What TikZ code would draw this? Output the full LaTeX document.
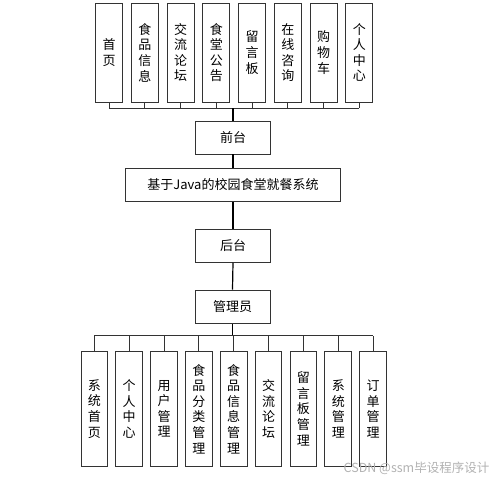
\documentclass[tikz,border=0pt]{standalone}
\usepackage{fontspec}
\setmainfont{Noto Sans CJK SC}
\begin{document}
\begin{tikzpicture}[x=1pt,y=-1pt,
  box/.style={draw=black!80,line width=0.9pt,fill=white,inner sep=0pt,font=\fontsize{13}{15.6}\selectfont,align=center},
  topbox/.style={box,minimum width=27pt,minimum height=99pt},
  botbox/.style={box,minimum width=26.7pt,minimum height=115.7pt},
  midbox/.style={box,minimum width=74.6pt,minimum height=33pt},
  conn/.style={draw=black!80,line width=0.9pt},
  trunk/.style={draw=black,line width=1.2pt}]
\useasboundingbox (0,0) rectangle (499,480);
% top row
\foreach \i/\t in {0/{首\\页},1/{食\\品\\信\\息},2/{交\\流\\论\\坛},3/{食\\堂\\公\\告},4/{留\\言\\板},5/{在\\线\\咨\\询},6/{购\\物\\车},7/{个\\人\\中\\心}}{
  \node[topbox] (t\i) at ({109+35.75*\i},52.5) {\t};
}
\node[midbox] (qt) at (233,137.5) {前台};
\node[box,minimum width=215.7pt,minimum height=33.4pt] (sys) at (233,185) {基于Java的校园食堂就餐系统};
\node[midbox] (ht) at (233,245.8) {后台};
\node[midbox,minimum width=75pt,minimum height=33.3pt] (gly) at (232.5,306.7) {管理员};
\foreach \i/\t in {0/{系\\统\\首\\页},1/{个\\人\\中\\心},2/{用\\户\\管\\理},3/{食\\品\\分\\类\\管\\理},4/{食\\品\\信\\息\\管\\理},5/{交\\流\\论\\坛},6/{留\\言\\板\\管\\理},7/{系\\统\\管\\理},8/{订\\单\\管\\理}}{
  \node[botbox] (b\i) at ({94.3+34.85*\i},408.8) {\t};
}
\coordinate (busT) at (233,108.3);
\coordinate (busB) at (233,335.7);
% top bus
\foreach \i in {0,...,7}{ \draw[conn] (t\i.south) -- (t\i.south |- busT); }
\draw[conn] (t0.south |- busT) -- (t7.south |- busT);
\draw[trunk] (qt.north) -- (busT);
\draw[trunk] (qt.south) -- (sys.north);
\draw[trunk] (sys.south) -- (ht.north);
\draw[trunk] (ht.south) -- (gly.north);
\draw[trunk] (gly.south) -- (gly.south |- busB);
% bottom bus
\foreach \i in {0,...,8}{ \draw[conn] (b\i.north) -- (b\i.north |- busB); }
\draw[conn] (b0.north |- busB) -- (b8.north |- busB);
\node[text=black!30,font=\fontsize{12.5}{14}\selectfont,inner sep=0pt] (wm) at (416.5,468) {CSDN @ssm毕设程序设计};
\end{tikzpicture}
\end{document}
